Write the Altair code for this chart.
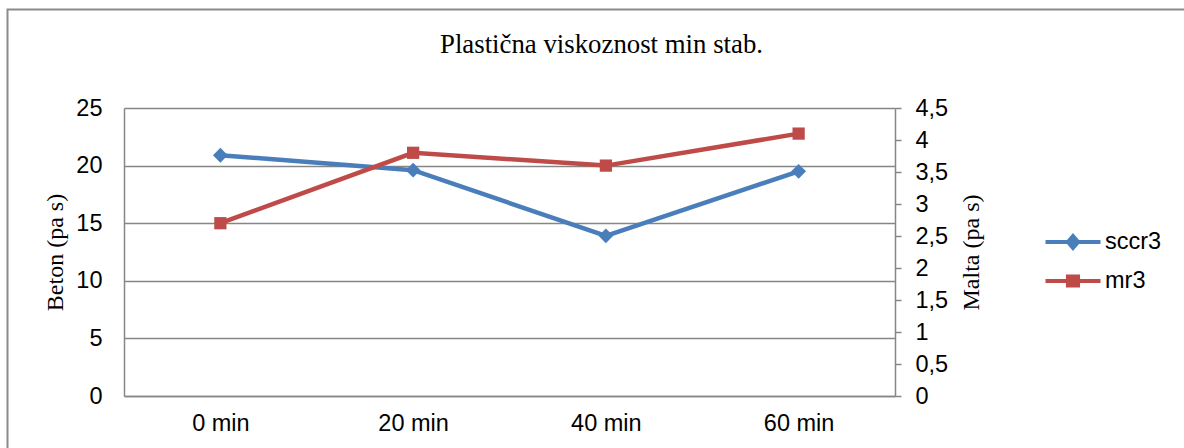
import altair as alt
import pandas as pd

# Measurement times and plastic viscosity of each mix
times = ["0 min", "20 min", "40 min", "60 min"]
sccr3 = [20.9, 19.6, 13.9, 19.5]   # concrete, left axis (pa s)
mr3 = [2.7, 3.8, 3.6, 4.1]         # mortar, right axis (pa s)

series_names = ["sccr3", "mr3"]
BLUE = "#4A7EBB"
RED = "#BE4B48"
GREY = "#868686"

SANS = "Liberation Sans"
SERIF = "Liberation Serif"

df_beton = pd.DataFrame({"time": times, "value": sccr3, "series": "sccr3"})
df_malta = pd.DataFrame({"time": times, "value": mr3, "series": "mr3"})

x_enc = alt.X(
    "time:N",
    sort=times,
    scale=alt.Scale(type="point", padding=0.5),
    axis=alt.Axis(
        title=None, labelAngle=0, domainColor=GREY, domainWidth=1.5,
        tickSize=0, labelPadding=15, labelFont=SANS, labelFontSize=23.5,
        labelColor="black", grid=False,
    ),
)

y_left = alt.Y(
    "value:Q",
    scale=alt.Scale(domain=[0, 25], nice=False, zero=True),
    axis=alt.Axis(
        title="Beton (pa s)", values=[0, 5, 10, 15, 20, 25],
        grid=True, gridColor=GREY, gridWidth=1.5,
        domainColor=GREY, domainWidth=1.5, tickSize=0, labelPadding=22,
        labelFont=SANS, labelFontSize=23.5, labelColor="black",
        titleFont=SERIF, titleFontSize=24, titleFontWeight="normal",
        titleColor="black", titlePadding=8,
    ),
)

y_right = alt.Y(
    "value:Q",
    scale=alt.Scale(domain=[0, 4.5], nice=False, zero=True),
    axis=alt.Axis(
        orient="right", title="Malta (pa s)",
        values=[0, 0.5, 1, 1.5, 2, 2.5, 3, 3.5, 4, 4.5],
        labelExpr="replace(toString(datum.value), '.', ',')",
        grid=False, domainColor=GREY, domainWidth=1.5,
        tickColor=GREY, tickWidth=1.5, tickSize=6, labelPadding=14,
        labelFont=SANS, labelFontSize=23.5, labelColor="black",
        titleFont=SERIF, titleFontSize=24, titleFontWeight="normal",
        titleColor="black", titleAngle=270, titleBaseline="top",
        titlePadding=12,
    ),
)

# Legend symbols: a short line segment with the series marker in the middle
legend_paths = [
    "M-1.25,0H1.25M0,-0.27L0.23,0L0,0.27L-0.23,0Z",
    "M-1.25,0H1.25M-0.23,-0.2H0.23V0.2H-0.23Z",
]
legend = alt.Legend(
    title=None, orient="none", legendX=925, legendY=110, padding=0,
    symbolSize=1936, rowPadding=1, labelOffset=8,
    labelFont=SANS, labelFontSize=23.5, labelColor="black",
    symbolStrokeWidth=4, symbolOpacity=1,
)
series_colors = alt.Scale(domain=series_names, range=[BLUE, RED])

beton = alt.Chart(df_beton)
beton_line = beton.mark_line(color=BLUE, strokeWidth=4.5).encode(x=x_enc, y=y_left)
beton_pts = beton.mark_point(
    shape="diamond", filled=True, size=220, color=BLUE, opacity=1
).encode(x=x_enc, y=y_left)
# Invisible points that carry the series legend
beton_key = beton.mark_point(opacity=0, filled=True, strokeWidth=4).encode(
    x=x_enc,
    y=y_left,
    fill=alt.Fill("series:N", scale=series_colors, legend=legend),
    stroke=alt.Stroke("series:N", scale=series_colors, legend=legend),
    shape=alt.Shape("series:N", scale=alt.Scale(domain=series_names, range=legend_paths), legend=legend),
)

malta = alt.Chart(df_malta)
malta_line = malta.mark_line(color=RED, strokeWidth=4.5).encode(x=x_enc, y=y_right)
malta_pts = malta.mark_point(
    shape="square", filled=True, size=150, color=RED, opacity=1
).encode(x=x_enc, y=y_right)

# Outer chart-area border
frame = alt.Chart(pd.DataFrame({"k": [0]})).mark_rect(
    filled=False, stroke="#8A8A8A", strokeWidth=2
).encode(
    x=alt.value(-116.5), y=alt.value(-98.5), x2=alt.value(1080), y2=alt.value(360)
)

left_layer = alt.layer(frame, beton_line, beton_pts, beton_key)
right_layer = alt.layer(malta_line, malta_pts)

chart = (
    alt.layer(left_layer, right_layer)
    .resolve_scale(y="independent")
    .properties(
        width=771,
        height=288,
        title=alt.TitleParams(
            "Plastična viskoznost min stab.",
            font=SERIF, fontSize=26.8, fontWeight="normal", color="black",
            anchor="middle", frame="group", dx=92, offset=0, dy=71.5,
            baseline="alphabetic",
        ),
        autosize=alt.AutoSizeParams(type="none"),
        padding={"left": 124, "top": 108, "right": 289, "bottom": 52},
        background="white",
    )
    .configure_view(stroke=None)
)

chart.save("out.html", embed_options={"renderer": "svg", "actions": False})
